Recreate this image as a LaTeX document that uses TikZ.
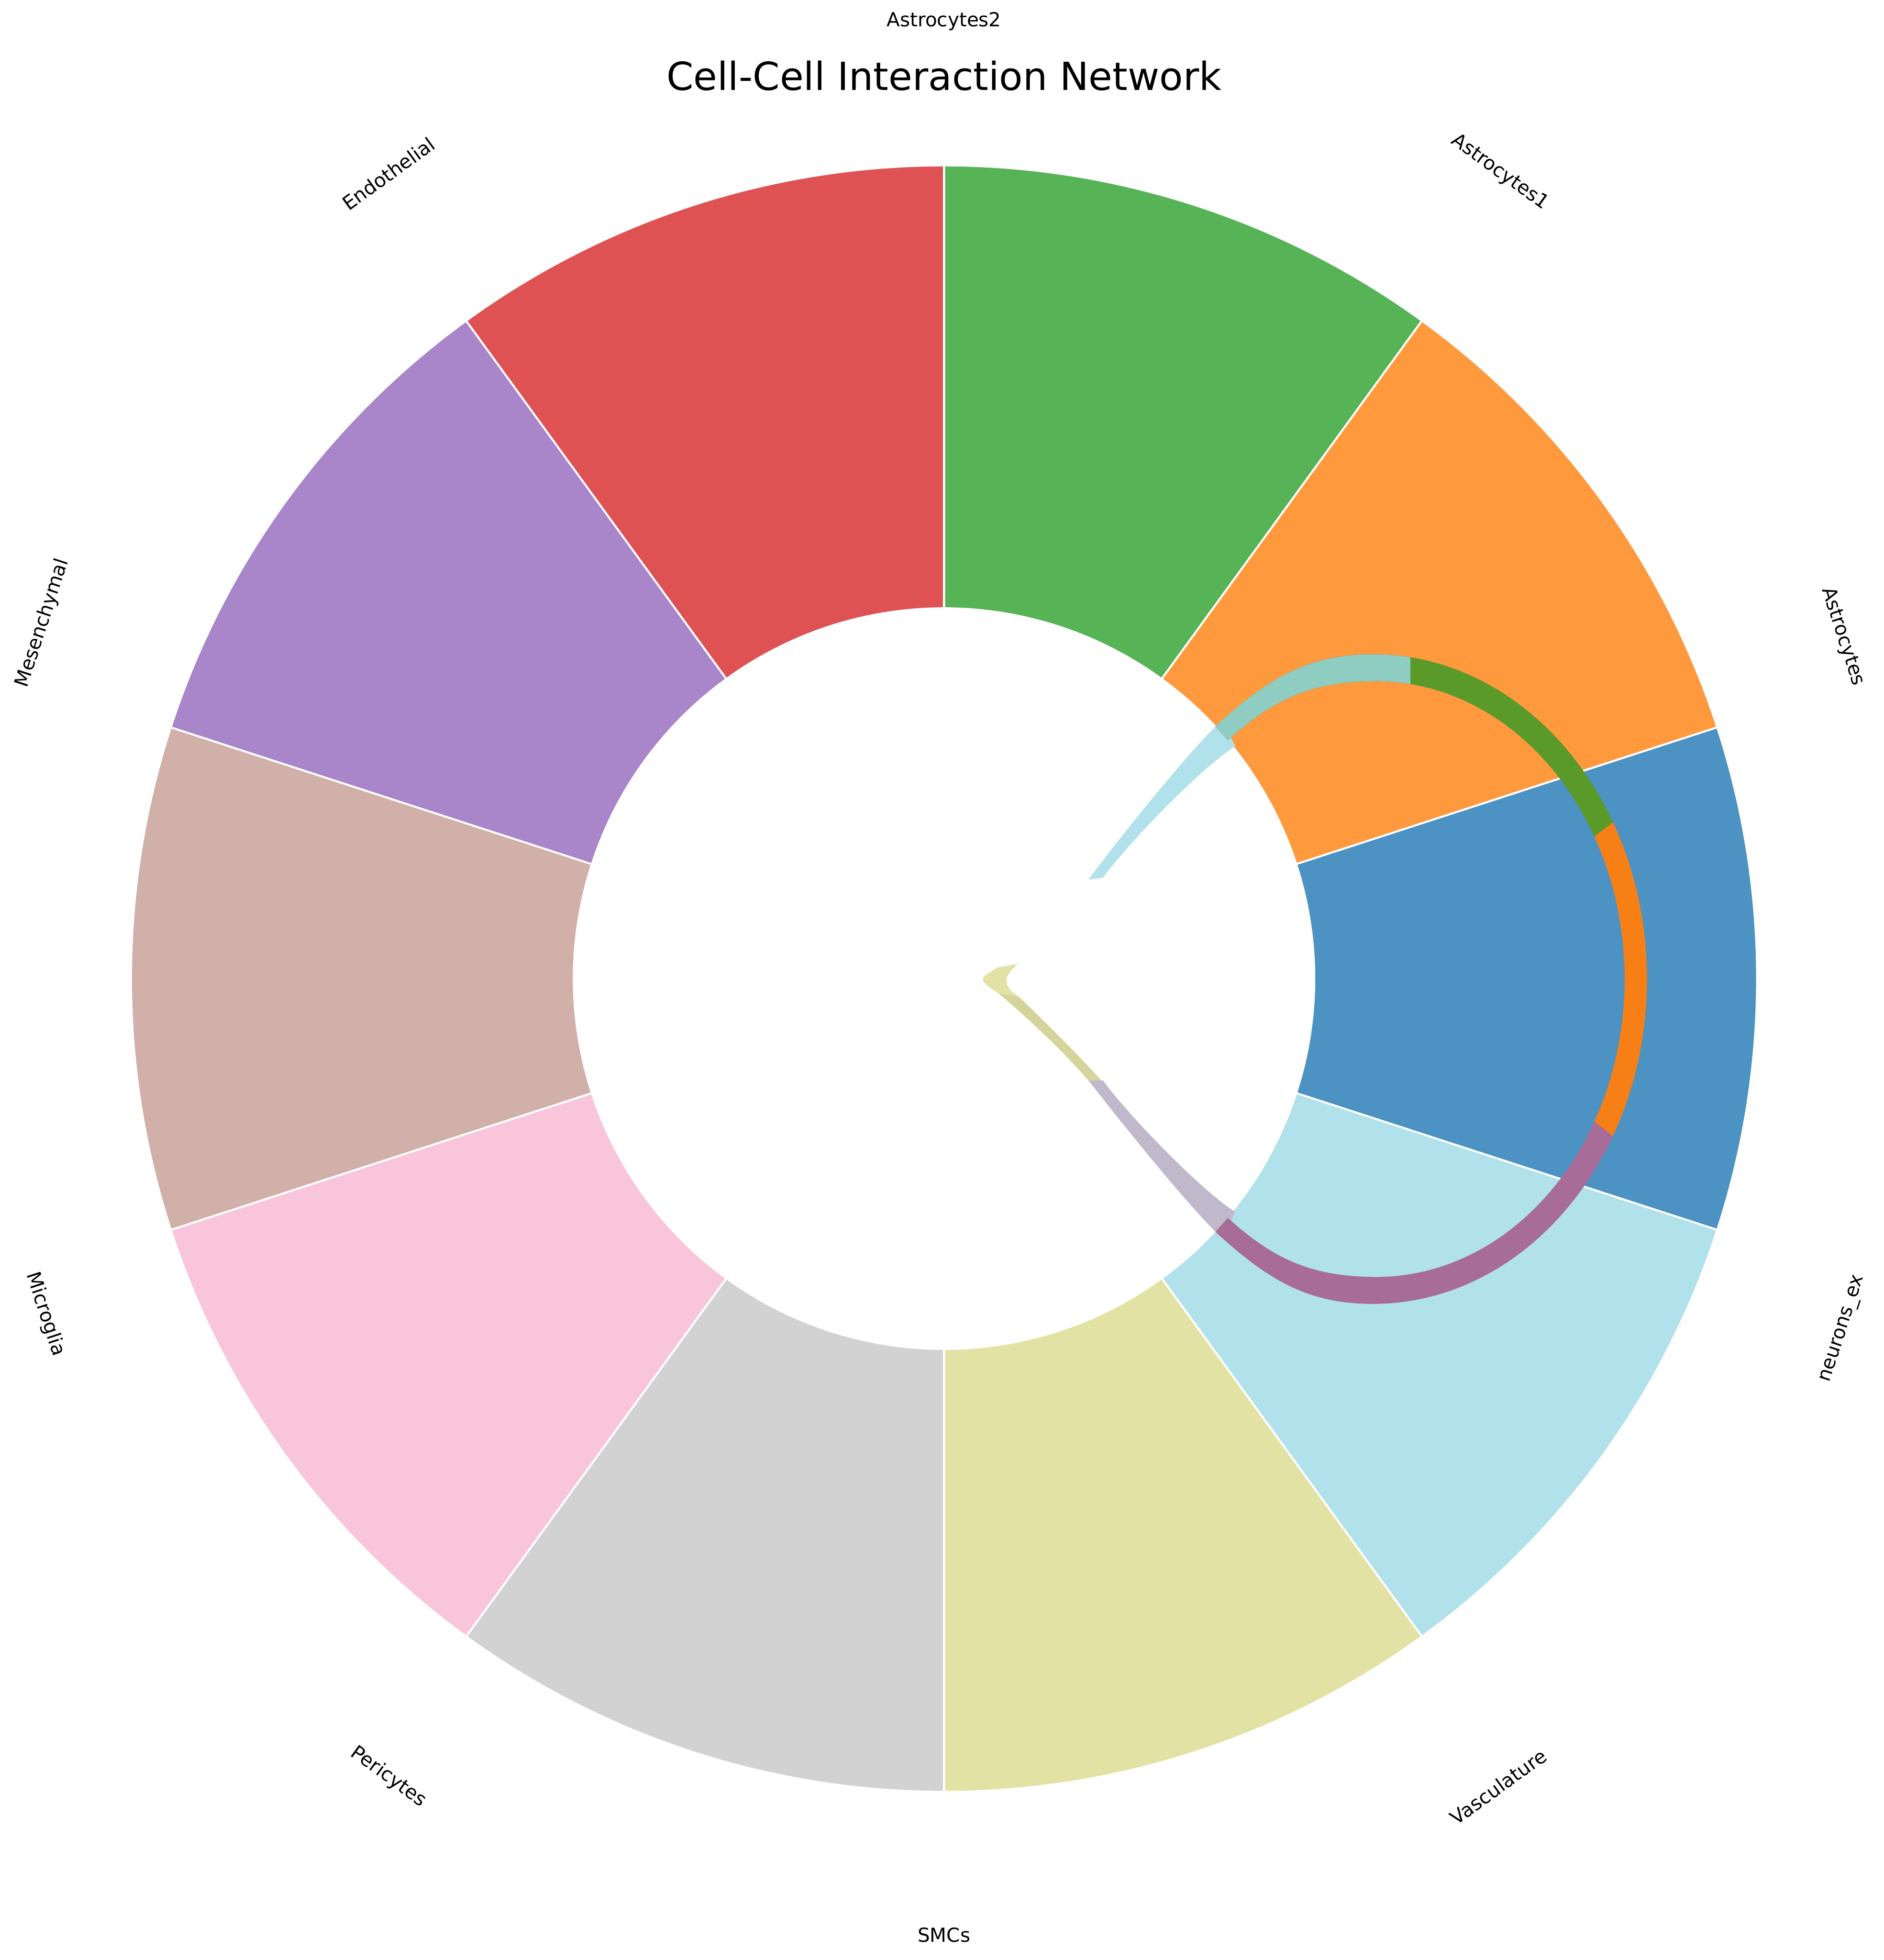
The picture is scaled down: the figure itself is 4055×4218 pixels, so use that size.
\documentclass[tikz,border=0pt]{standalone}
\usepackage{fontspec}
\setmainfont{DejaVu Sans}
% sector colours
\definecolor{wgreen}{RGB}{86,179,86}
\definecolor{worange}{RGB}{255,153,62}
\definecolor{wblue}{RGB}{76,146,195}
\definecolor{wcyan}{RGB}{177,225,234}
\definecolor{wolive}{RGB}{226,226,164}
\definecolor{wgray}{RGB}{210,210,210}
\definecolor{wpink}{RGB}{249,197,219}
\definecolor{wbrown}{RGB}{208,176,169}
\definecolor{wpurple}{RGB}{169,133,202}
\definecolor{wred}{RGB}{222,82,83}
% chord colours
\definecolor{cgreen}{RGB}{90,154,40}
\definecolor{corange}{RGB}{247,128,22}
\definecolor{cpurple}{RGB}{168,108,152}
\definecolor{cteal}{RGB}{143,204,193}
\definecolor{clblue}{RGB}{177,225,234}
\definecolor{cgrape}{RGB}{192,185,203}
\definecolor{colive}{RGB}{213,212,154}
\definecolor{colivelt}{RGB}{226,226,166}
\newcommand{\bandloop}{(2616,1563) .. controls (2720,1469) and (2805,1408) .. (2955,1408)
  .. controls (3281,1408) and (3545,1721) .. (3545,2107)
  .. controls (3545,2493) and (3281,2806) .. (2955,2806)
  .. controls (2805,2806) and (2720,2745) .. (2616,2651) -- (2643,2621)
  .. controls (2739,2708) and (2822,2748) .. (2962,2748)
  .. controls (3257,2748) and (3497,2461) .. (3497,2107)
  .. controls (3497,1753) and (3257,1466) .. (2962,1466)
  .. controls (2822,1466) and (2739,1506) .. (2643,1593) -- cycle}

\begin{document}
\begin{tikzpicture}[x=0.24pt, y=-0.24pt,
  sector/.style={draw=white, line width=1pt},
  seglabel/.style={font=\fontsize{10pt}{12pt}\selectfont, inner sep=0pt}]
\useasboundingbox (0,0) rectangle (4055,4218);

% donut sectors
\begin{scope}[shift={(2032,2106)}, yscale=-1]
  \foreach \a/\c in {54/wgreen, 18/worange, -18/wblue, -54/wcyan, -90/wolive,
      -126/wgray, -162/wpink, 162/wbrown, 126/wpurple, 90/wred} {
    \pgfmathsetmacro{\b}{\a+36}
    \filldraw[sector, fill=\c] (\a:797) arc[start angle=\a, end angle=\b, radius=797]
      -- (\b:1750) arc[start angle=\b, end angle=\a, radius=1750] -- cycle;
  }
\end{scope}

% chord tails inside the hole
\fill[colive] (2352,2336) .. controls (2290,2262) and (2200,2180) .. (2148,2137)
  -- (2193,2145) .. controls (2240,2190) and (2320,2268) .. (2382,2338) -- cycle;
\fill[colivelt] (2148,2137) .. controls (2122,2120) and (2108,2110) .. (2120,2099)
  -- (2147,2082) -- (2192,2074) .. controls (2160,2100) and (2155,2120) .. (2193,2145) -- cycle;
\fill[cgrape] (2630,2664) .. controls (2560,2599) and (2400,2399) .. (2343,2325)
  -- (2374,2325) .. controls (2430,2402) and (2590,2566) .. (2659,2608) -- cycle;
\fill[clblue] (2630,1550) .. controls (2560,1615) and (2400,1815) .. (2343,1893)
  -- (2374,1889) .. controls (2430,1812) and (2590,1648) .. (2659,1606) -- cycle;

% chord band around the right side
\fill[cpurple] \bandloop;
\begin{scope}
  \clip (3036,2107) -- (3904,1435) -- (3904,1000) -- (2400,1000) -- (2400,2107) -- cycle;
  \fill[cgreen] \bandloop;
\end{scope}
\begin{scope}
  \clip (3036,2107) -- (3904,1435) -- (3904,2779) -- cycle;
  \fill[corange] \bandloop;
\end{scope}
\begin{scope}
  \clip (3036,2107) -- (3036,1000) -- (2400,1000) -- (2400,2107) -- cycle;
  \fill[cteal] \bandloop;
\end{scope}

% title and sector labels
\node[anchor=base, font=\fontsize{20pt}{24pt}\selectfont] (title) at (2032,194)
  {Cell-Cell Interaction Network};
\node[seglabel] (lblAstroTwo) at (2032,46) {Astrocytes2};
\node[seglabel, rotate=-36] (lblAstroOne) at (3228,371) {Astrocytes1};
\node[seglabel, rotate=-72] (lblAstro) at (3966,1370) {Astrocytes};
\node[seglabel, rotate=72] (lblNeuEx) at (3968,2860) {neurons\_ex};
\node[seglabel, rotate=36] (lblVasc) at (3225,3845) {Vasculature};
\node[seglabel] (lblSMC) at (2032,4164) {SMCs};
\node[seglabel, rotate=-36] (lblPeri) at (836,3824) {Pericytes};
\node[seglabel, rotate=-72] (lblMicro) at (97,2828) {Microglia};
\node[seglabel, rotate=72] (lblMesen) at (92,1341) {Mesenchymal};
\node[seglabel, rotate=36] (lblEndo) at (836,374) {Endothelial};
\end{tikzpicture}
\end{document}
